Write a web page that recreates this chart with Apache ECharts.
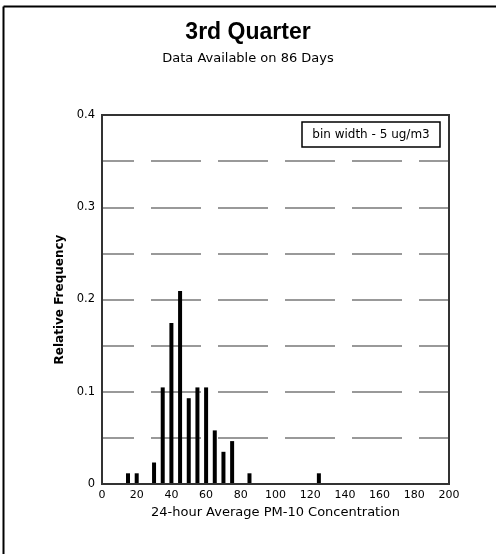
<!DOCTYPE html>
<html>
<head>
<meta charset="utf-8">
<script src="https://cdn.jsdelivr.net/npm/echarts@6/dist/echarts.min.js"></script>
<style>html,body{margin:0;padding:0;background:#fff}#c{width:496px;height:554px}</style>
</head>
<body>
<div id="c"></div>
<script>
// Bin centers (ug/m3), bin width 5
const binCenters = [15, 20, 30, 35, 40, 45, 50, 55, 60, 65, 70, 75, 85, 125];
// Relative frequency in each bin (counts out of 86 days)
const relFreq = [0.0116, 0.0116, 0.0233, 0.1047, 0.1744, 0.2093, 0.0930, 0.1047, 0.1047, 0.0581, 0.0349, 0.0465, 0.0116, 0.0116];
const xTicks = [0, 20, 40, 60, 80, 100, 120, 140, 160, 180, 200];
const yTickLabels = ['0', '0.1', '0.2', '0.3', '0.4'];

const chart = echarts.init(document.getElementById('c'), null, {renderer: 'canvas'});
const small = 'DejaVu Sans';
chart.setOption({
  animation: false,
  backgroundColor: '#fff',
  title: {
    text: '3rd Quarter',
    subtext: 'Data Available on 86 Days',
    left: 'center',
    top: 16,
    itemGap: 8,
    textStyle: {fontFamily: 'Liberation Sans', fontWeight: 'bold', fontSize: 23, color: '#000'},
    subtextStyle: {fontFamily: small, fontSize: 13, color: '#000'}
  },
  grid: {left: 102, right: 47, top: 115, bottom: 70, show: true, z: 10,
    borderColor: '#333', borderWidth: 2, backgroundColor: 'transparent'},
  xAxis: {
    type: 'value', min: 0, max: 200, interval: 20,
    name: '24-hour Average PM-10 Concentration',
    nameLocation: 'middle', nameGap: 22,
    nameTextStyle: {fontFamily: small, fontSize: 13, color: '#000'},
    axisLine: {show: true, lineStyle: {color: '#111', width: 2}},
    axisTick: {show: false},
    splitLine: {show: false},
    axisLabel: {fontFamily: small, fontSize: 11, color: '#000', margin: 6,
      formatter: v => (xTicks.indexOf(v) >= 0 ? String(v) : '')}
  },
  yAxis: {
    type: 'value', min: 0, max: 0.4, interval: 0.05,
    name: 'Relative Frequency',
    nameLocation: 'middle', nameGap: 35,
    nameTextStyle: {fontFamily: small, fontSize: 12, color: '#000', fontWeight: 'bold'},
    axisLine: {show: true, lineStyle: {color: '#333', width: 2}},
    axisTick: {show: false},
    axisLabel: {fontFamily: small, fontSize: 11.5, color: '#000', margin: 7,
      formatter: v => {
        const k = Math.round(v * 10);
        return Math.abs(v * 10 - k) < 1e-6 ? yTickLabels[k] : '';
      }},
    splitLine: {show: true, lineStyle: {color: '#999', width: 2, type: [50, 17], dashOffset: 18}}
  },
  graphic: [
    {type: 'line', shape: {x1: 3.5, y1: 6.5, x2: 496, y2: 6.5}, style: {stroke: '#000', lineWidth: 2}},
    {type: 'line', shape: {x1: 3.5, y1: 6.5, x2: 3.5, y2: 554}, style: {stroke: '#000', lineWidth: 2}},
    {type: 'rect', z: 10, shape: {x: 302, y: 122, width: 138, height: 25}, style: {fill: '#fff', stroke: '#000', lineWidth: 1.5}},
    {type: 'text', z: 11, x: 371, y: 134.5, style: {text: 'bin width - 5 ug/m3', fontFamily: small, fontSize: 12, fill: '#000', align: 'center', verticalAlign: 'middle'}}
  ],
  series: [{
    type: 'bar',
    data: binCenters.map((c, i) => [c, relFreq[i]]),
    barWidth: 4,
    itemStyle: {color: '#000'},
    z: 3
  }]
});
</script>
</body>
</html>
